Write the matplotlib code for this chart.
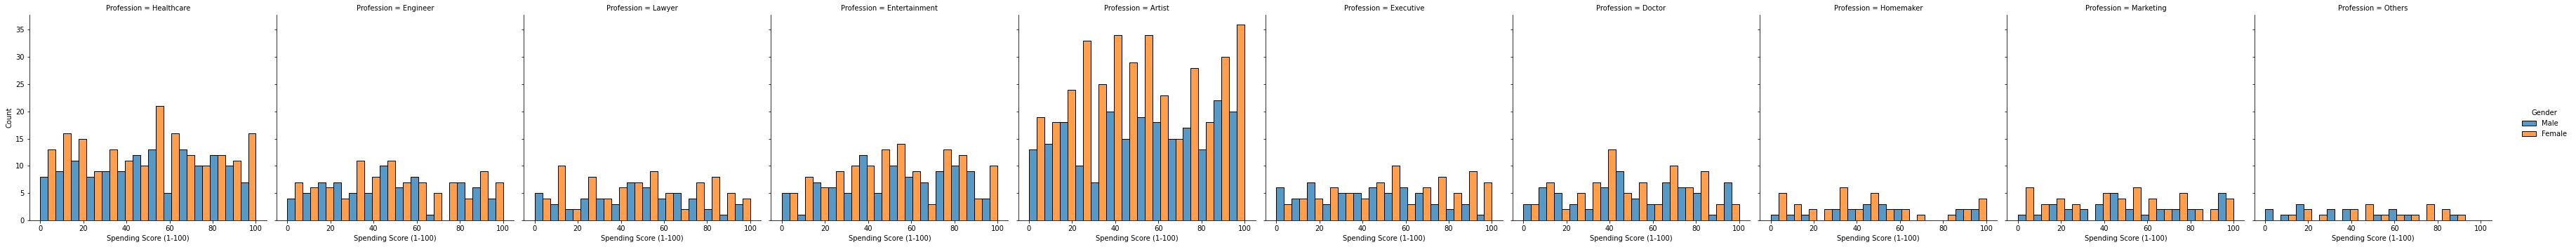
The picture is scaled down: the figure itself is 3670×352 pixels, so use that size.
import numpy as np
import pandas as pd
import seaborn as sns
import matplotlib
matplotlib.use("Agg")
import matplotlib.pyplot as plt

professions = ["Healthcare", "Engineer", "Lawyer", "Entertainment", "Artist",
               "Executive", "Doctor", "Homemaker", "Marketing", "Others"]
genders = ["Male", "Female"]

# 14 equal bins over the spending score range
n_bins = 14
score_range = (0, 100)

# counts per bin
male = {
    "Healthcare":    [8, 9, 11, 8, 9, 9, 12, 13, 5, 13, 10, 12, 10, 7],
    "Engineer":      [4, 5, 7, 7, 5, 5, 10, 6, 8, 1, 0, 7, 6, 4],
    "Lawyer":        [5, 3, 2, 4, 4, 3, 7, 6, 4, 5, 4, 2, 1, 3],
    "Entertainment": [5, 1, 7, 6, 5, 12, 5, 10, 8, 7, 9, 10, 9, 4],
    "Artist":        [13, 14, 18, 10, 7, 20, 15, 19, 18, 15, 17, 13, 22, 20],
    "Executive":     [6, 4, 7, 3, 5, 5, 6, 5, 6, 5, 3, 2, 3, 1],
    "Doctor":        [3, 6, 5, 3, 2, 6, 9, 4, 3, 7, 6, 5, 1, 7],
    "Homemaker":     [1, 1, 1, 0, 2, 2, 3, 3, 2, 0, 0, 0, 2, 2],
    "Marketing":     [1, 1, 3, 2, 2, 3, 5, 2, 1, 2, 2, 2, 0, 5],
    "Others":        [2, 1, 3, 0, 2, 2, 0, 1, 2, 1, 0, 0, 1, 0],
}
female = {
    "Healthcare":    [13, 16, 15, 9, 13, 11, 10, 21, 16, 12, 10, 12, 11, 16],
    "Engineer":      [7, 6, 6, 4, 11, 8, 11, 7, 7, 5, 7, 4, 9, 7],
    "Lawyer":        [4, 10, 2, 8, 4, 6, 7, 9, 5, 2, 7, 8, 5, 4],
    "Entertainment": [5, 8, 6, 9, 10, 10, 13, 14, 9, 3, 13, 12, 4, 10],
    "Artist":        [19, 18, 24, 33, 25, 34, 29, 34, 23, 15, 28, 18, 30, 36],
    "Executive":     [3, 4, 4, 6, 5, 4, 7, 10, 3, 6, 8, 5, 9, 7],
    "Doctor":        [3, 7, 2, 5, 7, 13, 5, 7, 3, 10, 6, 9, 3, 3],
    "Homemaker":     [5, 3, 2, 2, 6, 2, 5, 2, 2, 1, 0, 1, 2, 4],
    "Marketing":     [6, 3, 4, 3, 0, 5, 4, 6, 4, 2, 5, 2, 2, 4],
    "Others":        [0, 1, 2, 1, 0, 2, 3, 1, 1, 1, 3, 2, 1, 0],
}

edges = np.linspace(score_range[0], score_range[1], n_bins + 1)
centers = (edges[:-1] + edges[1:]) / 2
rows = []
for p in professions:
    for g_name, src in (("Male", male), ("Female", female)):
        for c, n in zip(centers, src[p]):
            rows.append((p, g_name, c, n))
df = pd.DataFrame(rows, columns=["Profession", "Gender", "Spending Score (1-100)", "Count"])

g = sns.displot(df, x="Spending Score (1-100)", hue="Gender", col="Profession",
                weights="Count", bins=n_bins, binrange=score_range, multiple="dodge",
                col_order=professions, hue_order=genders)

fig = g.figure
fig.set_size_inches(3670 / 72, 352 / 72)
fig.subplots_adjust(left=0.0114, right=0.9672, bottom=0.108, top=0.941, wspace=0.042)
g._legend.set_bbox_to_anchor((0.999, 0.5))

fig.savefig("out.png", dpi=72)
